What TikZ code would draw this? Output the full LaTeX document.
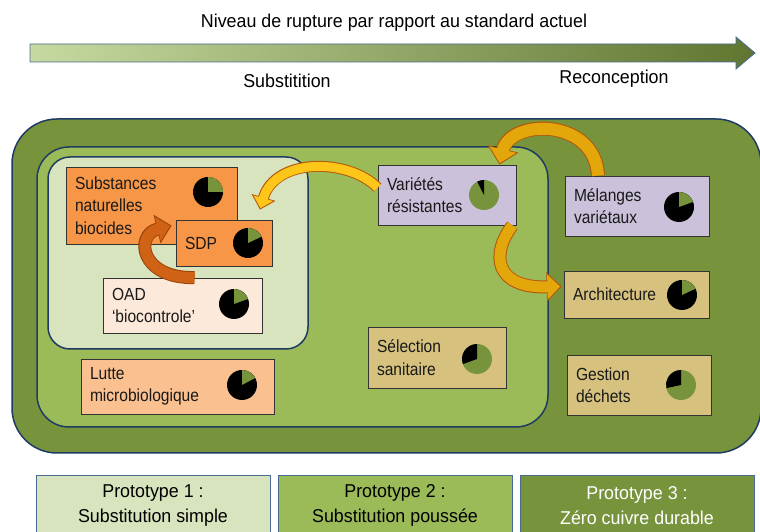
\documentclass[tikz,border=0pt]{standalone}
\usepackage{fontspec}
\setmainfont{Liberation Sans}
\newfontfamily\boitefont{Liberation Sans}[FakeStretch=0.89]
\newfontfamily\titrefont{Liberation Sans}[FakeStretch=0.96]
\usetikzlibrary{arrows.meta}

\definecolor{vertfonce}{HTML}{77933C}
\definecolor{vertmoyen}{HTML}{9BBB59}
\definecolor{vertclair}{HTML}{D7E4BD}
\definecolor{vertpale}{HTML}{C6D9A0}
\definecolor{bleubord}{HTML}{1F3B63}
\definecolor{bleugris}{HTML}{4A6A96}
\definecolor{orangevif}{HTML}{F79646}
\definecolor{peche}{HTML}{FDE9D9}
\definecolor{saumon}{HTML}{FAC090}
\definecolor{lavande}{HTML}{CCC1DA}
\definecolor{beige}{HTML}{D6C27E}
\definecolor{dore}{HTML}{E3A70B}
\definecolor{doreclair}{HTML}{FFC61A}
\definecolor{brique}{HTML}{B5580C}
\definecolor{rouille}{HTML}{CF6214}
\definecolor{rouillefonce}{HTML}{9C4209}

% camembert : centre, fond, secteur, angle debut, angle fin
\newcommand{\camembert}[5]{%
  \fill [#2] (#1) circle (15pt);
  \fill [#3] (#1) -- ++(#4:15pt) arc (#4:#5:15pt) -- cycle;
}

\tikzset{
  zone/.style={draw=bleubord, line width=1.5pt},
  boite/.style={draw=black!80, line width=0.8pt, align=left, inner xsep=9pt, inner ysep=0pt,
    font=\boitefont\fontsize{17.5}{22.4}\selectfont, text=black!90},
  titre/.style={font=\titrefont\fontsize{18.6}{20}\selectfont},
  proto/.style={draw=bleugris, line width=0.8pt, minimum width=234pt, minimum height=60pt,
    anchor=north, align=center, font=\titrefont\fontsize{18.6}{25}\selectfont},
  % couleur, bord, largeur, largeur du bord
  fleche/.style n args={4}{draw=#1, line width=#3, -{Triangle[width=0pt 2.2,length=0pt 1.15]},
    shorten >=1.5pt,
    preaction={draw=#2, line width=#4, -{Triangle[width=0pt 2.2,length=0pt 1.15]}, shorten >=0pt}},
}

\begin{document}
\begin{tikzpicture}[x=1pt,y=1pt]
\useasboundingbox (0,0) rectangle (760,532);

% niveau de rupture
\node [titre] (niveau) at (394,509) {Niveau de rupture par rapport au standard actuel};
\shadedraw [left color=vertpale, middle color=vertmoyen, right color=vertfonce!80!black,
  draw=bleugris, line width=0.8pt]
  (30,470) -- (736,470) -- (736,463) -- (755,479) -- (736,495) -- (736,488) -- (30,488) -- cycle;
\node [titre] (substitution) at (287,451) {Substitition};
\node [titre] (reconception) at (614,453) {Reconception};

% les trois zones
\draw [zone, fill=vertfonce, rounded corners=45pt] (12,79) rectangle (761,413);
\draw [zone, fill=vertmoyen, rounded corners=32pt] (37,105) rectangle (548,385);
\draw [zone, fill=vertclair, rounded corners=22pt] (48,183) rectangle (308,375);

% prototype 1
\node [boite, fill=orangevif, text width=153pt, minimum height=77pt] (substances) at (151.5,326.5) {Substances\\naturelles\\biocides};
\node [boite, fill=orangevif, text width=78pt, minimum height=46pt] (sdp) at (224,289) {SDP};
\node [boite, fill=peche, text width=141pt, minimum height=55pt] (oad) at (182.5,226.5) {OAD\\‘biocontrole’};

% prototype 2
\node [boite, fill=saumon, text width=175pt, minimum height=55pt] (lutte) at (177.5,145.5) {Lutte\\microbiologique};
\node [boite, fill=lavande, text width=120pt, minimum height=60pt] (varietes) at (447,337) {Variétés\\résistantes};
\node [boite, fill=beige, text width=120pt, minimum height=61pt] (selection) at (437,174.5) {Sélection\\sanitaire};

% prototype 3
\node [boite, fill=lavande, text width=126pt, minimum height=60pt] (melanges) at (637,326) {Mélanges\\variétaux};
\node [boite, fill=beige, text width=127pt, minimum height=47pt] (archi) at (636.5,237.5) {Architecture};
\node [boite, fill=beige, text width=126pt, minimum height=60pt] (gestion) at (639,147) {Gestion\\déchets};

% camemberts
\camembert{208,340}{black}{vertfonce}{0}{90}
\camembert{248,289}{black}{vertfonce}{25}{90}
\camembert{234,228}{black}{vertfonce}{20}{90}
\camembert{242,147}{black}{vertfonce}{28}{90}
\camembert{484,337}{vertfonce}{black}{90}{117}
\camembert{477,173}{vertfonce}{black}{90}{200}
\camembert{679,325}{black}{vertfonce}{20}{90}
\camembert{682,237}{black}{vertfonce}{25}{90}
\camembert{681,147}{vertfonce}{black}{90}{192}

% fleches courbes
\draw [fleche={doreclair}{brique}{9pt}{11pt}] (varietes.174) .. controls +(-30,30) and +(15,52) .. ([xshift=36pt,yshift=10pt]sdp.north);
\draw [fleche={rouille}{rouillefonce}{11pt}{13pt}] ([xshift=12pt]oad.north) .. controls +(-55,-1) and +(-37,-9) .. ([shift={(-4pt,-6pt)}]sdp.north west);
\draw [fleche={dore}{brique}{12pt}{14pt}] ([xshift=-39pt]melanges.north) .. controls +(-3,58) and +(11,46) .. ([xshift=-17pt]varietes.north east);
\draw [fleche={dore}{brique}{11pt}{13pt}] ([xshift=-4pt]varietes.south east) .. controls +(-22,-29) and +(-67,-2) .. ([xshift=-2pt,yshift=8pt]archi.west);

% prototypes
\node [proto, fill=vertclair] (proto1) at (153,57) {Prototype 1 :\\Substitution simple};
\node [proto, fill=vertmoyen] (proto2) at (395,57) {Prototype 2 :\\Substitution poussée};
\node [proto, fill=vertfonce, text=white] (proto3) at (637,57) {Prototype 3 :\\Zéro cuivre durable};

\end{tikzpicture}
\end{document}
